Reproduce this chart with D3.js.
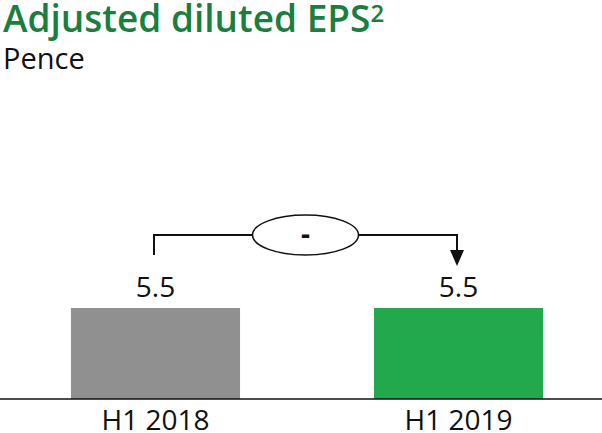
<!DOCTYPE html>
<html><head><meta charset="utf-8">
<script src="https://cdn.jsdelivr.net/npm/d3@7"></script>
<style>body{margin:0;background:#fff;} text{font-family:"Open Sans",sans-serif;}</style>
</head><body>
<svg id="c" width="602" height="433"></svg>
<script>
const categories = ["H1 2018", "H1 2019"];
const values = [5.5, 5.5];
const valueLabels = ["5.5", "5.5"];
const barColors = ["#909090", "#23a94d"];
const changeLabel = "-";

const svg = d3.select("#c");
const x = d3.scaleBand().domain(categories).range([4, 610]).paddingInner(0.442).paddingOuter(0.221);
const y = d3.scaleLinear().domain([0, 5.5]).range([399, 308]);

svg.append("text").attr("x", 3).attr("y", 32).attr("fill", "#1a7e3e")
  .attr("font-size", 37).attr("font-weight", 600)
  .text("Adjusted diluted EPS").append("tspan").attr("font-size", 24).attr("dy", -10).attr("font-weight", 600).text("2");
svg.append("text").attr("x", 3).attr("y", 69).attr("fill", "#111").attr("font-size", 29).text("Pence");

svg.selectAll("rect.bar").data(values).join("rect").attr("class", "bar")
  .attr("x", (d, i) => x(categories[i])).attr("width", x.bandwidth())
  .attr("y", d => y(d)).attr("height", d => y(0) - y(d))
  .attr("fill", (d, i) => barColors[i]);

svg.append("line").attr("x1", 0).attr("x2", 602).attr("y1", y(0)).attr("y2", y(0))
  .attr("stroke", "#111").attr("stroke-width", 1.5);

svg.selectAll("text.val").data(values).join("text").attr("class", "val")
  .attr("x", (d, i) => x(categories[i]) + x.bandwidth() / 2).attr("y", d => y(d) - 11)
  .attr("text-anchor", "middle").attr("font-size", 28).attr("fill", "#111")
  .text((d, i) => valueLabels[i]);

svg.selectAll("text.cat").data(categories).join("text").attr("class", "cat")
  .attr("x", d => x(d) + x.bandwidth() / 2).attr("y", 430)
  .attr("text-anchor", "middle").attr("font-size", 28).attr("fill", "#111")
  .text(d => d);

// connector
const cx0 = x(categories[0]) + x.bandwidth() / 2 - 1.5;
const cx1 = x(categories[1]) + x.bandwidth() / 2 - 1.5;
const lineY = 235;
const ex = (cx0 + cx1) / 2;
svg.append("path").attr("d", `M${cx0},255 V${lineY} H${cx1} V251`)
  .attr("fill", "none").attr("stroke", "#111").attr("stroke-width", 2);
svg.append("path").attr("d", `M${cx1 - 7},250 L${cx1 + 7},250 L${cx1},266 Z`).attr("fill", "#111");
svg.append("ellipse").attr("cx", ex).attr("cy", lineY).attr("rx", 53).attr("ry", 20)
  .attr("fill", "#fff").attr("stroke", "#111").attr("stroke-width", 1.5);
svg.append("text").attr("x", ex).attr("y", lineY + 9).attr("text-anchor", "middle")
  .attr("font-size", 28).attr("font-weight", "bold").attr("fill", "#111").text(changeLabel);
</script>
</body></html>
